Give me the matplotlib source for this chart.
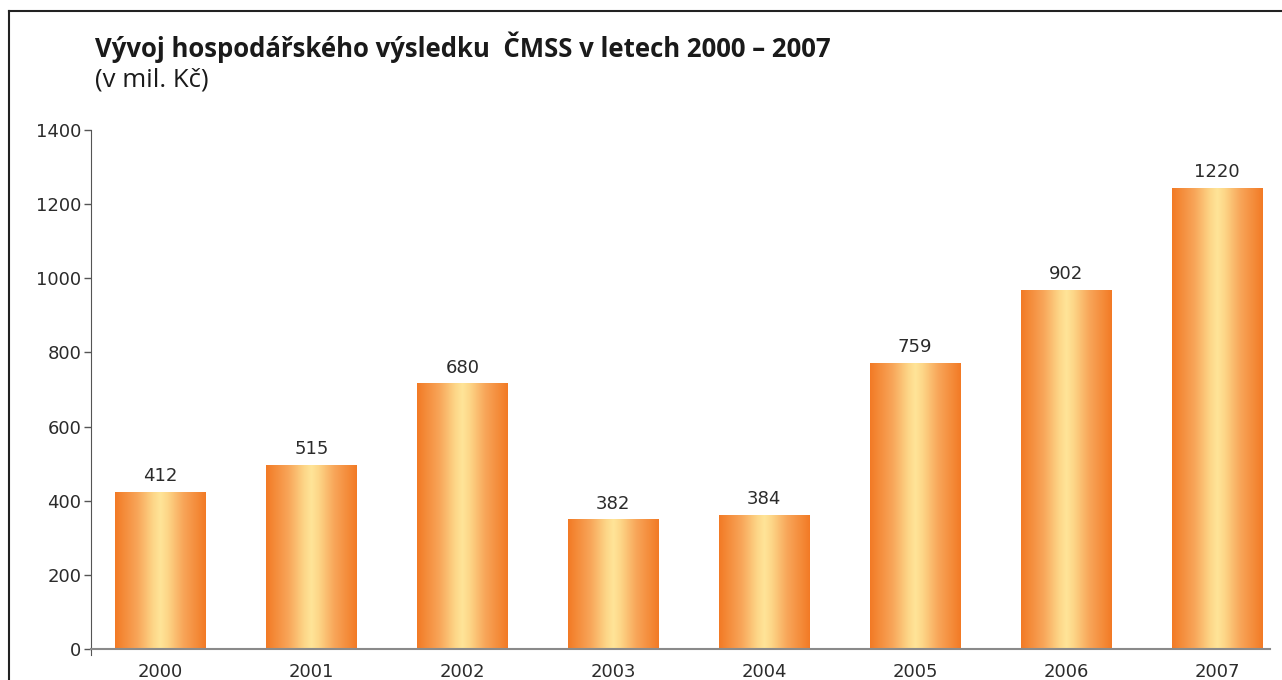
"""Vývoj hospodářského výsledku ČMSS 2000–2007, gradient bar chart."""

import matplotlib.pyplot as plt
import numpy as np
from matplotlib.colors import LinearSegmentedColormap
from matplotlib.lines import Line2D

years = ["2000", "2001", "2002", "2003", "2004", "2005", "2006", "2007"]
# bar heights as drawn in the source (the printed labels differ slightly)
bar_heights = [423, 496, 715, 348, 359, 771, 968, 1243]
value_labels = ["412", "515", "680", "382", "384", "759", "902", "1220"]
y_ticks = [0, 200, 400, 600, 800, 1000, 1200, 1400]

TEXT = "#2b2b2b"
plt.rcParams["font.family"] = ["Liberation Sans Narrow", "DejaVu Sans"]

fig = plt.figure(figsize=(12.82, 6.8), dpi=100)
ax = fig.add_axes([91 / 1282, 1 - 649 / 680, (1270 - 91) / 1282, (649 - 130) / 680])

x = np.arange(len(years))
bars = ax.bar(x, bar_heights, width=0.6, color="none", zorder=2)

cmap = LinearSegmentedColormap.from_list(
    "orange_glow",
    [(0.0, "#f27a25"), (0.25, "#f8a65a"), (0.42, "#fdd688"), (0.5, "#ffe498"),
     (0.58, "#fdd688"), (0.75, "#f8a65a"), (1.0, "#f27a25")],
)
grad = np.linspace(0, 1, 256).reshape(1, -1)
for bar in bars:
    x0, y0 = bar.get_x(), bar.get_y()
    ax.imshow(
        grad,
        cmap=cmap,
        aspect="auto",
        extent=(x0, x0 + bar.get_width(), y0, y0 + bar.get_height()),
        zorder=2,
    )

for bar, label in zip(bars, value_labels):
    ax.text(
        bar.get_x() + bar.get_width() / 2,
        bar.get_height() + 20,
        label,
        ha="center",
        va="bottom",
        fontsize=13,
        color=TEXT,
    )

ax.set_xlim(-0.46, 7.35)
ax.set_ylim(0, 1400)
ax.set_yticks(y_ticks)
ax.set_xticks(x)
ax.set_xticklabels(years)
ax.tick_params(axis="y", direction="out", length=5, width=1, colors="#555555",
               labelcolor=TEXT, labelsize=13, pad=2)
ax.tick_params(axis="x", length=0, labelcolor=TEXT, labelsize=13, pad=10)

for side in ("top", "right"):
    ax.spines[side].set_visible(False)
ax.spines["left"].set_color("#555555")
ax.spines["left"].set_bounds(-15, 1400)
ax.spines["bottom"].set_color("#8a8a8a")
ax.spines["bottom"].set_linewidth(1.5)
ax.spines["bottom"].set_zorder(3)

fig.text(95 / 1282, 1 - 47 / 680, "Vývoj hospodářského výsledku  ČMSS v letech 2000 – 2007",
         family=["Open Sans", "DejaVu Sans"], fontweight="bold", fontsize=18.5,
         color="#1a1a1a", va="center", ha="left")
fig.text(95 / 1282, 1 - 80 / 680, "(v mil. Kč)",
         family=["Open Sans", "DejaVu Sans"], fontsize=18.5,
         color="#1a1a1a", va="center", ha="left")

# page frame
fig.add_artist(Line2D([9 / 1282, 9 / 1282], [0, 1 - 11 / 680],
                      transform=fig.transFigure, color="#222222", lw=1.5))
fig.add_artist(Line2D([9 / 1282, 1], [1 - 11 / 680, 1 - 11 / 680],
                      transform=fig.transFigure, color="#222222", lw=1.5))

fig.savefig("out.png", dpi=100)
